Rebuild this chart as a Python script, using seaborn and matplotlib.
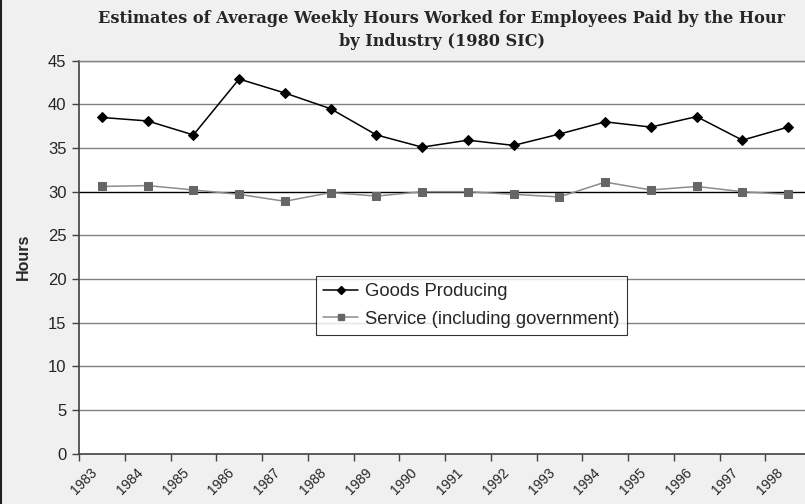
import matplotlib
matplotlib.use("Agg")
import matplotlib.pyplot as plt
from matplotlib.lines import Line2D
import seaborn as sns
import pandas as pd

years = ["1983", "1984", "1985", "1986", "1987", "1988", "1989", "1990",
         "1991", "1992", "1993", "1994", "1995", "1996", "1997", "1998"]
goods = [38.5, 38.1, 36.5, 42.9, 41.3, 39.5, 36.5, 35.1,
         35.9, 35.3, 36.6, 38.0, 37.4, 38.6, 35.9, 37.4]
service = [30.6, 30.7, 30.2, 29.7, 28.9, 29.9, 29.5, 30.0,
           30.0, 29.7, 29.4, 31.1, 30.2, 30.6, 30.0, 29.7]
series_names = ["Goods Producing", "Service (including government)"]
yticks = [0, 5, 10, 15, 20, 25, 30, 35, 40, 45]

df = pd.concat([
    pd.DataFrame({"idx": range(len(years)), "Hours": goods, "Series": series_names[0]}),
    pd.DataFrame({"idx": range(len(years)), "Hours": service, "Series": series_names[1]}),
])

sns.set_theme(style="white")
plt.rcParams["font.family"] = ["Liberation Sans", "DejaVu Sans"]

fig = plt.figure(figsize=(8.05, 5.04), dpi=100)
fig.patch.set_facecolor("#f0f0f0")
ax = fig.add_axes([79 / 805, 50.3 / 504, 732 / 805, 393 / 504])
ax.set_facecolor("white")

# grid lines
for v in yticks[1:]:
    ax.axhline(v, color="black" if v == 30 else "#808080", lw=1.0, zorder=1)

sns.lineplot(data=df, x="idx", y="Hours", hue="Series", style="Series",
             palette={series_names[0]: "black", series_names[1]: "#8c8c8c"},
             markers={series_names[0]: "D", series_names[1]: "s"},
             dashes=False, ax=ax, legend=False, lw=1.1, zorder=3,
             markersize=6)
ax.lines[-2].set_markerfacecolor("black")
ax.lines[-2].set_markeredgecolor("black")
ax.lines[-2].set_markersize(5.5)
ax.lines[-1].set_markerfacecolor("#666666")
ax.lines[-1].set_markeredgecolor("#666666")
ax.lines[-1].set_markersize(6)

ax.set_xlim(-0.5, len(years) - 0.5)
ax.set_ylim(0, 45)
ax.set_yticks(yticks)
ax.set_yticklabels([str(v) for v in yticks], fontsize=12)
# category boundaries carry the tick marks
ax.set_xticks([i - 0.5 for i in range(len(years))])
ax.set_xticklabels([])
# labels anchored slightly left of each category centre
ax.set_xticks([i - 0.15 for i in range(len(years))], minor=True)
ax.set_xticklabels(years, minor=True, rotation=45, ha="right", va="center",
                   rotation_mode="anchor", fontsize=10)
ax.tick_params(axis="x", which="minor", length=0, pad=12)
ax.tick_params(axis="x", which="major", length=5, width=1, color="#404040", direction="out", bottom=True)
ax.tick_params(axis="y", length=5, width=1, color="#404040", direction="out", left=True, pad=4)

ax.set_xlabel("")
ax.set_ylabel("Hours", fontsize=11.5, fontweight="bold", labelpad=12)

for s in ["left", "bottom"]:
    ax.spines[s].set_color("#404040")
    ax.spines[s].set_linewidth(1.2)
ax.spines["top"].set_color("#808080")
ax.spines["top"].set_linewidth(1.0)
ax.spines["right"].set_visible(False)

handles = [
    Line2D([], [], color="black", marker="D", markersize=4.5, lw=1.1),
    Line2D([], [], color="#8c8c8c", marker="s", markersize=5, lw=1.1,
           markerfacecolor="#666666", markeredgecolor="#666666"),
]
leg = ax.legend(handles, series_names, loc="upper left",
                bbox_to_anchor=(0.3234, 0.452), fontsize=13.3, frameon=True,
                fancybox=False, edgecolor="black", handlelength=1.9,
                handletextpad=0.35, borderpad=0.4, labelspacing=0.55,
                borderaxespad=0)
leg.get_frame().set_linewidth(0.8)
leg.get_frame().set_facecolor("white")
leg.set_zorder(5)

fig.text(442 / 805, 1 - 30 / 504,
         "Estimates of Average Weekly Hours Worked for Employees Paid by the Hour\nby Industry (1980 SIC)",
         ha="center", va="center", fontsize=11.6, fontweight="bold",
         family=["DejaVu Serif"], linespacing=1.5)

fig.add_artist(Line2D([1 / 805, 1 / 805], [0, 1], color="#202020", lw=1.5,
                      transform=fig.transFigure))

fig.savefig("out.png", dpi=100, facecolor=fig.get_facecolor())
